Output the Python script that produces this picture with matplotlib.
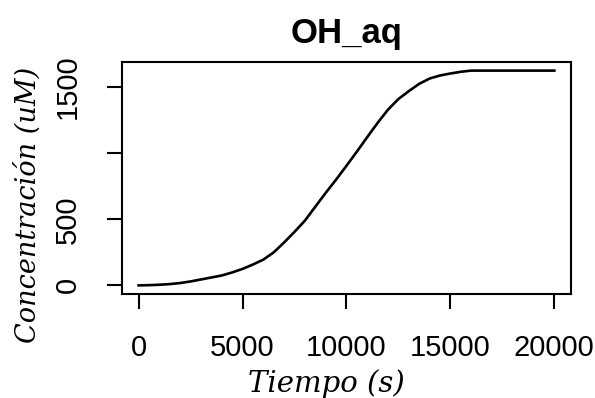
import matplotlib
matplotlib.use("Agg")
import matplotlib.pyplot as plt

# OH_aq concentration over time
tiempo = [0, 500, 1000, 1500, 2000, 2500, 3000, 3500, 4000, 4500, 5000,
          5500, 6000, 6500, 7000, 7500, 8000, 8500, 9000, 9500, 10000,
          10500, 11000, 11500, 12000, 12500, 13000, 13500, 14000, 14500,
          15000, 15500, 16000, 17000, 18000, 19000, 20000]
oh_aq = [0, 2, 5, 10, 18, 30, 45, 60, 75, 98, 125,
         158, 195, 250, 325, 405, 490, 595, 700, 800, 905,
         1012, 1122, 1230, 1330, 1410, 1470, 1525, 1565, 1588,
         1603, 1616, 1625, 1625, 1625, 1625, 1625]
x_ticks = [0, 5000, 10000, 15000, 20000]
y_ticks = [0, 500, 1000, 1500]
y_labels = ["0", "500", "", "1500"]

plt.rcParams['font.family'] = ['Liberation Sans', 'DejaVu Sans']

fig = plt.figure(figsize=(5.95, 3.98), dpi=100)
ax = fig.add_axes([0.205, 0.2613, 0.7546, 0.5829])

ax.plot(tiempo, oh_aq, color='black', lw=1.9)
ax.set_xlim(-800, 20800)
ax.set_ylim(-65, 1690)

ax.set_xticks(x_ticks)
ax.set_xticklabels([str(v) for v in x_ticks])
ax.set_yticks(y_ticks)
ax.set_yticklabels(y_labels, rotation=90, va='center')
ax.tick_params(axis='both', direction='out', length=11, width=1.5,
               labelsize=21, pad=18)

for s in ax.spines.values():
    s.set_linewidth(1.5)

ax.set_title("OH_aq", fontsize=25, fontweight='bold', pad=14)

fig.text(326 / 595, 1 - 384 / 398, "Tiempo (s)", family='DejaVu Serif',
         style='italic', fontsize=21, ha='center', va='center')
fig.text(28 / 595, 1 - 205 / 398, "Concentración (uM)", family='DejaVu Serif',
         style='italic', fontsize=19.5, ha='center', va='center', rotation=90)

fig.savefig("out.png", dpi=100)
